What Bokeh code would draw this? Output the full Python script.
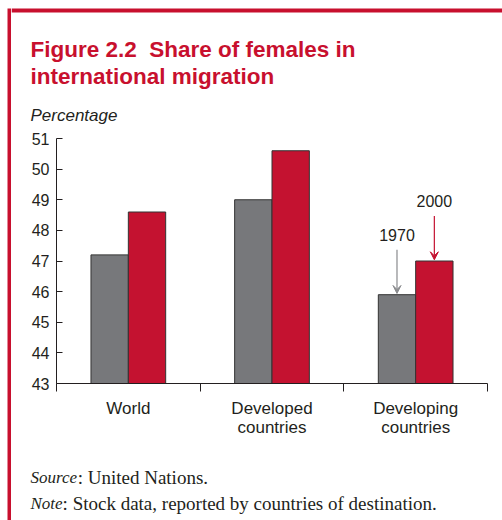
from bokeh.plotting import figure
from bokeh.layouts import row, column
from bokeh.models import Range1d, FixedTicker, Arrow, VeeHead, Label
from bokeh.core.properties import value
from bokeh.embed import file_html
from bokeh.resources import INLINE

# ---- data ----
categories = ["World", "Developed\ncountries", "Developing\ncountries"]
years = ["1970", "2000"]
share_1970 = [47.2, 49.0, 45.9]
share_2000 = [48.6, 50.6, 47.0]
y_ticks = [43, 44, 45, 46, 47, 48, 49, 50, 51]
title_lines = ["Figure 2.2\u00a0 Share of females in", "international migration"]
y_unit = "Percentage"
source_lab, source_txt = "Source", ": United Nations."
note_lab, note_txt = "Note", ": Stock data, reported by countries of destination."

GRAY = "#77787B"
RED = "#C41230"
FRAME_RED = "#C8102E"
TXT = "#231F20"

W, H = 502, 520
SW = 11                  # width of left column holding the red strip
CW = W - SW
HEAD_H = 126
FOOT_H = 67
MAIN_H = H - HEAD_H - FOOT_H


def blank(width, height, ymax, bg="white"):
    f = figure(width=width, height=height, output_backend="svg", toolbar_location=None,
               x_range=Range1d(0, width), y_range=Range1d(ymax, 0),
               x_axis_location=None, y_axis_location=None,
               min_border=0, min_border_left=0, min_border_right=0,
               min_border_top=0, min_border_bottom=0, frame_align=False)
    f.grid.visible = False
    f.outline_line_color = None
    f.background_fill_color = bg
    f.border_fill_color = bg
    return f

# left red strip
strip = blank(SW, H, H)
strip.quad(left=[7], right=[11], top=[8], bottom=[H], fill_color=FRAME_RED, line_color=None)

# header
head = blank(CW, HEAD_H, HEAD_H)
head.quad(left=[0], right=[CW], top=[8], bottom=[12], fill_color=FRAME_RED, line_color=None)
head.text(x=[19, 19], y=[49.3, 76.0], text=title_lines, text_font=value("Liberation Sans"),
          text_font_style="bold", text_font_size="22.5px", text_color=FRAME_RED,
          text_baseline="alphabetic", text_align="left")
head.text(x=[19], y=[115], text=[y_unit], text_font=value("Liberation Sans"),
          text_font_style="italic", text_font_size="17px", text_color=TXT,
          text_baseline="alphabetic", text_align="left")

# main chart
n = len(categories)
p = figure(width=CW, height=MAIN_H, output_backend="svg", toolbar_location=None,
           x_range=Range1d(0, n), y_range=Range1d(y_ticks[0], y_ticks[-1]),
           min_border_left=45, min_border_right=15, min_border_top=12,
           min_border_bottom=70, frame_align=False)
p.outline_line_color = None
p.grid.visible = False
p.background_fill_color = "white"
p.border_fill_color = "white"

bw = 0.26
x70 = [i + 0.5 - bw / 2 for i in range(n)]
x00 = [i + 0.5 + bw / 2 for i in range(n)]
p.vbar(x=x70, top=share_1970, bottom=y_ticks[0], width=bw, fill_color=GRAY,
       line_color="#333333", line_width=1)
p.vbar(x=x00, top=share_2000, bottom=y_ticks[0], width=bw, fill_color=RED,
       line_color="#333333", line_width=1)

xa = p.xaxis[0]
xa.ticker = FixedTicker(ticks=[i + 0.5 for i in range(n)], minor_ticks=list(range(n + 1)))
xa.major_label_overrides = {i + 0.5: c for i, c in enumerate(categories)}
xa.major_tick_out = 0
xa.major_tick_in = 0
xa.minor_tick_out = 8
xa.minor_tick_in = 0
xa.minor_tick_line_color = TXT
xa.axis_line_color = TXT
xa.major_label_text_font = "Liberation Sans"
xa.major_label_text_font_size = "17px"
xa.major_label_text_color = TXT
xa.major_label_text_line_height = 1.0
xa.major_label_standoff = 7

ya = p.yaxis[0]
ya.ticker = FixedTicker(ticks=y_ticks, minor_ticks=[])
ya.major_tick_in = 6
ya.major_tick_out = 0
ya.minor_tick_in = 0
ya.minor_tick_out = 0
ya.axis_line_color = TXT
ya.major_tick_line_color = TXT
ya.major_label_text_font = "Liberation Sans"
ya.major_label_text_font_size = "16px"
ya.major_label_text_color = TXT
ya.major_label_standoff = 7

k = 2
for xs, val, col, yr in [(x70[k], share_1970[k], "#8A8B8E", years[0]),
                         (x00[k], share_2000[k], RED, years[1])]:
    p.add_layout(Arrow(x_start=xs, y_start=val + 1.47, x_end=xs, y_end=val + 0.04,
                       line_color=col, line_width=1.2,
                       end=VeeHead(size=8, fill_color=col, line_color=col)))
    p.add_layout(Label(x=xs, y=val + 1.95, text=yr, text_align="center",
                       text_baseline="middle", text_font="Liberation Sans",
                       text_font_size="16px", text_color=TXT))

# footer
foot = blank(CW, FOOT_H, FOOT_H)
foot.text(x=[19, 19], y=[24.3, 50.3], text=[source_lab, note_lab],
          text_font=value("Liberation Serif"), text_font_style="italic",
          text_font_size="17px", text_color=TXT, text_baseline="alphabetic", text_align="left")
foot.text(x=[19 + 47.2, 19 + 32.1], y=[24.3, 50.3], text=[source_txt, note_txt],
          text_font=value("Liberation Serif"), text_font_size="19px", text_color=TXT,
          text_baseline="alphabetic", text_align="left")

layout = row(strip, column(head, p, foot, spacing=0), spacing=0)
open("out.html", "w").write(file_html(layout, INLINE))
